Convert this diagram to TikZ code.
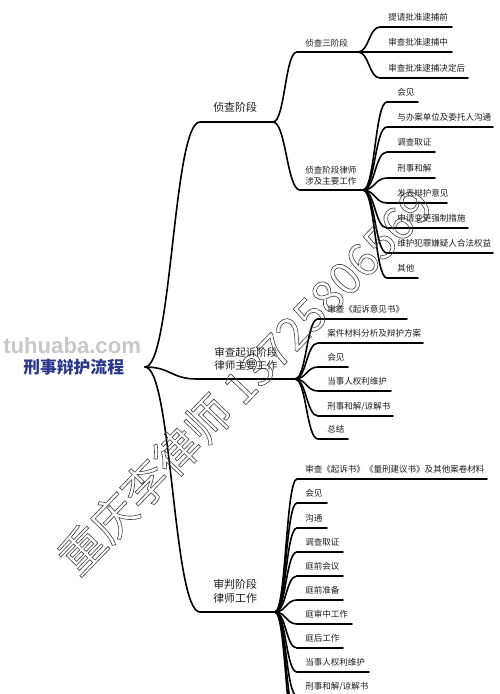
\documentclass[tikz,border=0pt]{standalone}
\usepackage{fontspec}
\setmainfont{Liberation Sans}
\newfontfamily\cjk{Noto Sans CJK SC}
\usetikzlibrary{calc}
\definecolor{rootblue}{RGB}{42,56,140}
\definecolor{wmgray}{RGB}{200,200,200}
\definecolor{txt}{RGB}{30,30,30}
\begin{document}
\begin{tikzpicture}[x=0.75pt,y=-0.75pt,
  branch/.style={line width=1.2pt, black, line cap=round},
  leaf/.style={font=\cjk\fontsize{6.4pt}{7pt}\selectfont, inner sep=0pt, anchor=west, text=txt},
  mid/.style={font=\cjk\fontsize{8.2pt}{10.5pt}\selectfont, inner sep=0pt, anchor=west, align=left, text=txt},
  sub/.style={font=\cjk\fontsize{6.4pt}{8.3pt}\selectfont, inner sep=0pt, anchor=west, align=left, text=txt}]
\fill[white] (0,0) rectangle (500,694);
\useasboundingbox (0,0) rectangle (500,694);
\clip (0,0) rectangle (500,694);

% root
\node[font=\bfseries\fontsize{16.6pt}{18pt}\selectfont, text=wmgray, inner sep=0pt, anchor=west] (wm1) at (3,346) {tuhuaba.com};
\node[font=\cjk\bfseries\fontsize{12.6pt}{14pt}\selectfont, text=rootblue, inner sep=0pt, anchor=west] (root) at (23,367) {刑事辩护流程};
\coordinate (r) at (145,367);

% level 1
\coordinate (a1s) at (200,122); \coordinate (a1e) at (273,122);
\node[mid] (a1t) at (213,107) {侦查阶段};
\draw[branch] (r) .. controls ($(r)+(27,0)$) and ($(a1s)-(27,0)$) .. (a1s) -- (a1e);

\coordinate (a2s) at (197,379); \coordinate (a2e) at (295,379);
\node[mid, font=\cjk\fontsize{7.9pt}{9.75pt}\selectfont] (a2t) at (214,358.5) {审查起诉阶段\\律师主要工作};
\draw[branch] (r) .. controls ($(r)+(26,0)$) and ($(a2s)-(26,0)$) .. (a2s) -- (a2e);

\coordinate (a3s) at (200,612); \coordinate (a3e) at (275,612);
\node[mid] (a3t) at (213,591) {审判阶段\\律师工作};
\draw[branch] (r) .. controls ($(r)+(27,0)$) and ($(a3s)-(27,0)$) .. (a3s) -- (a3e);

% level 2 under a1
\coordinate (b1s) at (297,52); \coordinate (b1e) at (358,52);
\node[sub] (b1t) at (305,43) {侦查三阶段};
\draw[branch] (a1e) .. controls ($(a1e)+(12,0)$) and ($(b1s)-(12,0)$) .. (b1s) -- (b1e);
\coordinate (b2s) at (300,190); \coordinate (b2e) at (363,190);
\node[sub] (b2t) at (305,175.5) {侦查阶段律师\\涉及主要工作};
\draw[branch] (a1e) .. controls ($(a1e)+(13,0)$) and ($(b2s)-(13,0)$) .. (b2s) -- (b2e);

% group 1
\foreach \yy/\ee/\tt [count=\i] in {27/452/提请批准逮捕前, 52/452/审查批准逮捕中, 78/468/审查批准逮捕决定后}{
  \coordinate (g1s\i) at (380,\yy); \coordinate (g1e\i) at (\ee,\yy);
  \node[leaf] (g1t\i) at (388,\yy-9.5) {\tt};
  \draw[branch] (b1e) .. controls ($(b1e)+(11,0)$) and ($(g1s\i)-(11,0)$) .. (g1s\i) -- (g1e\i);
}
% group 2
\foreach \yy/\ee/\tt [count=\i] in {102/418/会见, 127/493/与办案单位及委托人沟通, 152/435/调查取证, 178/435/刑事和解, 203/447/发表辩护意见, 228/468/申请变更强制措施, 253/493/维护犯罪嫌疑人合法权益, 278/418/其他}{
  \coordinate (g2s\i) at (387,\yy); \coordinate (g2e\i) at (\ee,\yy);
  \node[leaf] (g2t\i) at (397,\yy-9.5) {\tt};
  \draw[branch] (b2e) .. controls ($(b2e)+(12,0)$) and ($(g2s\i)-(12,0)$) .. (g2s\i) -- (g2e\i);
}
% group 3
\foreach \yy/\ee/\tt [count=\i] in {319/407/审查《起诉意见书》, 343/423/案件材料分析及辩护方案, 367/348/会见, 391/391/当事人权利维护, 416/393/{刑事和解/谅解书}, 439/348/总结}{
  \coordinate (g3s\i) at (318,\yy); \coordinate (g3e\i) at (\ee,\yy);
  \node[leaf] (g3t\i) at (327,\yy-9.5) {\tt};
  \draw[branch] (a2e) .. controls ($(a2e)+(11.5,0)$) and ($(g3s\i)-(11.5,0)$) .. (g3s\i) -- (g3e\i);
}
% group 4
\foreach \yy/\ee/\tt [count=\i] in {479/487/审查《起诉书》《量刑建议书》及其他案卷材料, 503/327/会见, 528/327/沟通, 552/343/调查取证, 576/343/庭前会议, 600/343/庭前准备, 624/352/庭审中工作, 648/343/庭后工作, 672/369/当事人权利维护, 696/373/{刑事和解/谅解书}}{
  \coordinate (g4s\i) at (297,\yy); \coordinate (g4e\i) at (\ee,\yy);
  \node[leaf] (g4t\i) at (305,\yy-9.5) {\tt};
  \draw[branch] (a3e) .. controls ($(a3e)+(11,0)$) and ($(g4s\i)-(11,0)$) .. (g4s\i) -- (g4e\i);
}
\coordinate (g4x1) at (297,720); \coordinate (g4x2) at (297,744);
\draw[branch] (a3e) .. controls ($(a3e)+(11,0)$) and ($(g4x1)-(11,0)$) .. (g4x1);
\draw[branch] (a3e) .. controls ($(a3e)+(11,0)$) and ($(g4x2)-(11,0)$) .. (g4x2);

% watermark
\node[rotate=46, anchor=west, inner sep=0pt, font=\cjk\fontsize{34pt}{34pt}\selectfont] (wm2) at (66,566)
  {\special{pdf:literal direct q 1 Tr 0.45 w 0.25 G}重庆李律师 13725806569\special{pdf:literal direct Q}};
\end{tikzpicture}
\end{document}
